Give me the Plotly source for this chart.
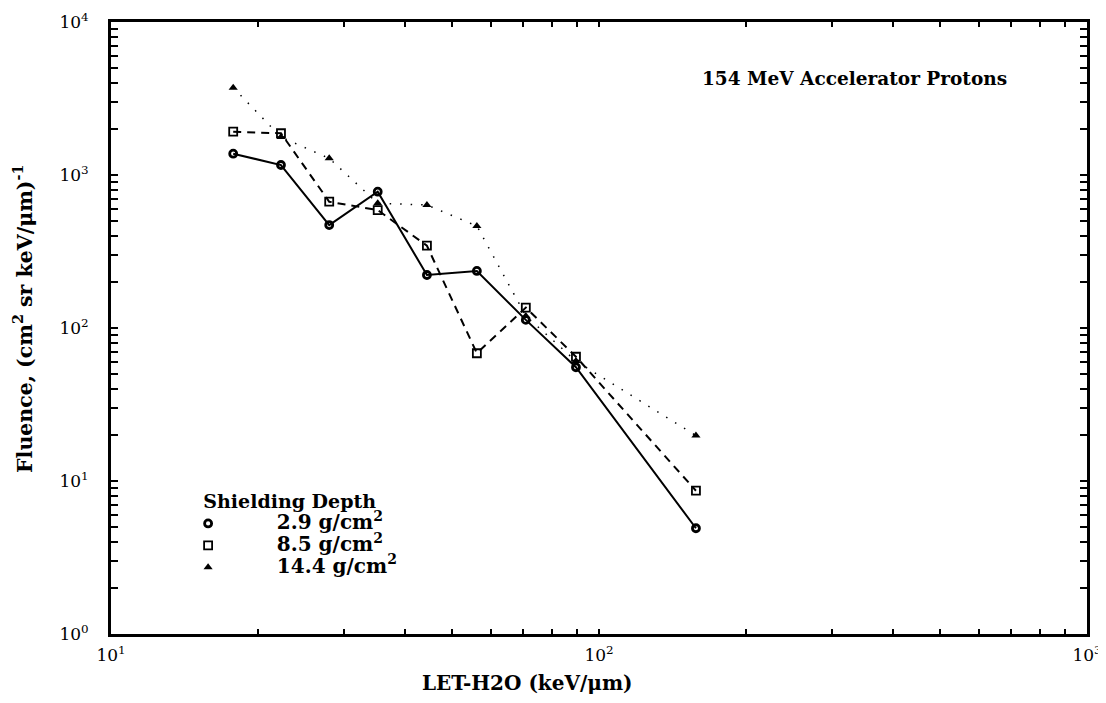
import plotly.graph_objects as go

let_values = [17.8, 22.3, 28.0, 35.2, 44.4, 56.2, 70.8, 89.7, 158.0]
fluence_2_9 = [1378, 1162, 471, 778, 222, 236, 113, 55.4, 4.91]
fluence_8_5 = [1918, 1874, 669, 590, 345, 68.4, 136, 64.9, 8.64]
fluence_14_4 = [3720, 1772, 1285, 653, 637, 464, 120, 60.8, 19.8]

series_names = ["2.9 g/cm<sup>2</sup>", "8.5 g/cm<sup>2</sup>", "14.4 g/cm<sup>2</sup>"]
x_decades = [1, 2]          # log10 of 10, 100 (decades with minor ticks)
y_decades = [0, 1, 2, 3]
minor_digits = [1, 2, 3, 4, 5, 6, 7, 8, 9]

FONT = "DejaVu Serif"
NBSP = "\u00a0"


def log_ticks(decades):
    vals, texts = [], []
    for d in decades:
        for m in minor_digits:
            vals.append(m * 10 ** d)
            texts.append(f"10<sup>{d}</sup>" if m == 1 else "")
    last = decades[-1] + 1
    vals.append(10 ** last)
    texts.append(f"10<sup>{last}</sup>")
    return vals, texts


x_tickvals, x_ticktext = log_ticks(x_decades)
y_tickvals, y_ticktext = log_ticks(y_decades)

fig = go.Figure()
styles = [
    (fluence_2_9, dict(color="black", width=2, dash="solid"),
     dict(symbol="circle-open", size=7, color="black", line=dict(width=2.8, color="black"))),
    (fluence_8_5, dict(color="black", width=2, dash="8px,6px"),
     dict(symbol="square-open", size=8, color="black", line=dict(width=1.8, color="black"))),
    (fluence_14_4, dict(color="black", width=1.5, dash="1.5px,9px"),
     dict(symbol="triangle-up", size=8, color="black")),
]
for (vals, ln, mk), name in zip(styles, series_names):
    fig.add_trace(go.Scatter(x=let_values, y=vals, mode="lines+markers", line=ln, marker=mk,
                             showlegend=False, name=name))
for (vals, ln, mk), name in zip(styles, series_names):
    fig.add_trace(go.Scatter(x=[None], y=[None], mode="markers", marker=mk,
                             name=f"<span style='font-size:20px;font-weight:bold'>{NBSP * 7}{name}</span>",
                             showlegend=True))

axis_common = dict(
    type="log", showgrid=False, zeroline=False, automargin=False,
    showline=True, linecolor="black", linewidth=3, mirror="ticks",
    ticks="inside", tickwidth=1.5, tickcolor="black",
    tickfont=dict(family=FONT, size=17, color="black"),
)

fig.update_xaxes(range=[1, 3], tickmode="array", tickvals=x_tickvals, ticktext=x_ticktext,
                 ticklen=5, ticklabelstandoff=4, **axis_common)
fig.update_yaxes(range=[0, 4], tickmode="array", tickvals=y_tickvals, ticktext=y_ticktext,
                 ticklen=7, ticklabelstandoff=16, **axis_common)

fig.add_annotation(text="<b>154 MeV Accelerator Protons</b>", xref="paper", yref="paper",
                   x=0.762, y=0.908, xanchor="center", yanchor="middle", showarrow=False,
                   font=dict(family=FONT, size=18.5, color="black"))
fig.add_annotation(text="<b>LET-H2O (keV/μm)</b>", xref="paper", yref="paper",
                   x=0.427, y=-0.08, xanchor="center", yanchor="middle", showarrow=False,
                   font=dict(family=FONT, size=20, color="black"))
fig.add_annotation(text="<b>Fluence, (cm<sup>2</sup> sr keV/μm)<sup>-1</sup></b>", xref="paper", yref="paper",
                   x=-0.089, y=0.515, xanchor="center", yanchor="middle", textangle=-90, showarrow=False,
                   font=dict(family=FONT, size=20.5, color="black"))

fig.update_layout(
    width=1106, height=703,
    margin=dict(l=103, r=27, t=14, b=77),
    paper_bgcolor="white", plot_bgcolor="white",
    font=dict(family=FONT, color="black"),
    legend=dict(
        title=dict(text=f"<b>{NBSP * 2}Shielding Depth</b>", font=dict(family=FONT, size=19, color="black")),
        x=0.079, y=0.247, xanchor="left", yanchor="top",
        font=dict(family=FONT, size=14.5, color="black"),
        bgcolor="rgba(0,0,0,0)", tracegroupgap=0, itemwidth=30,
    ),
)

fig.write_html("out.html")
